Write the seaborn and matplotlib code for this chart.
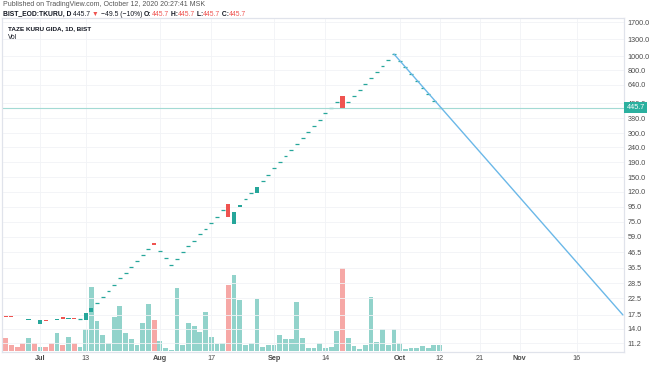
import matplotlib
matplotlib.use("Agg")
import matplotlib.pyplot as plt
import matplotlib.transforms as mtransforms
from matplotlib.ticker import NullLocator
import seaborn as sns

# daily bars, one per trading day (index 0 = late June 2020, 76 = Oct 12)
opens = [17.05, 17.05, 16.85, 16.62, 15.98, 16.43, 15.00, 16.03, 16.10, 16.06,
         16.76, 16.23, 16.57, 16.23, 16.06, 18.12, 21.1, 23.0, 25.4, 28.0,
         30.9, 33.7, 37.0, 40.7, 44.7, 49.1, 54.0, 47.1, 42.2, 38.2,
         42.0, 46.4, 50.9, 55.6, 61.3, 67.1, 73.7, 81.0, 89.9, 98.8,
         72.6, 94.3, 106.9, 117.9, 117.9, 142.4, 155.7, 172.8, 190.0, 209.6,
         230.3, 252.9, 276.6, 305.2, 335.3, 368.4, 409.0, 446.6, 490.5, 539.6,
         485.6, 536.5, 589.0, 647.0, 708.0, 777.0, 858.0, 943.0, 1035.4, 931.9,
         838.7, 754.8, 679.3, 611.4, 550.2, 495.2, 445.7]
closes = [16.95, 16.95, 16.75, 16.52, 16.38, 16.33, 16.06, 15.93, 16.00, 16.38,
          16.23, 16.57, 16.23, 16.23, 17.83, 19.40, 21.1, 23.0, 25.4, 28.0,
          30.9, 33.7, 37.0, 40.7, 44.7, 49.1, 52.2, 47.1, 42.2, 38.2,
          42.0, 46.4, 50.9, 55.6, 61.3, 67.1, 73.7, 81.0, 89.9, 80.2,
          87.6, 97.3, 106.9, 117.9, 129.7, 142.4, 155.7, 172.8, 190.0, 209.6,
          230.3, 252.9, 276.6, 305.2, 335.3, 368.4, 409.0, 446.6, 490.5, 441.5,
          485.6, 536.5, 589.0, 647.0, 708.0, 777.0, 858.0, 943.0, 1035.4, 931.9,
          838.7, 754.8, 679.3, 611.4, 550.2, 495.2, 445.7]
volumes = [13, 6, 4, 8, 13, 8, 4, 4, 8, 18,
           6, 14, 8, 4, 22, 64, 30, 16, 8, 34,
           45, 18, 12, 6, 28, 47, 31, 10, 3, 1,
           63, 6, 28, 25, 19, 39, 14, 7, 8, 66,
           76, 51, 6, 8, 52, 4, 6, 6, 16, 12,
           12, 49, 13, 3, 3, 8, 3, 4, 20, 83,
           13, 5, 2, 6, 54, 9, 22, 6, 22, 8,
           2, 3, 3, 5, 3, 6, 6]

tick_pos = [6, 14, 27, 36, 47, 56, 69, 76, 83, 90, 100]
tick_labels = ["Jul", "13", "Aug", "17", "Sep", "14", "Oct", "12", "21", "Nov", "16"]
price_ticks = [11.2, 14.0, 17.5, 22.5, 28.5, 36.5, 46.5, 59.0, 75.0, 95.0, 120.0,
               150.0, 190.0, 240.0, 300.0, 380.0, 480.0, 640.0, 800.0, 1000.0,
               1300.0, 1700.0]
last_price = 445.7
# drawn trend line: from the top to the right edge
trend_x = [68, 108.1]
trend_y = [1035.4, 17.4]

UP = "#26a69a"
DOWN = "#ef5350"
UP_VOL = "#92d3cb"
DOWN_VOL = "#f6a8a6"
BORDER = "#e0e3eb"
TXT = "#4a4a4a"
DARK = "#131722"

sns.set_theme(style="white")
plt.rcParams["font.family"] = ["Liberation Sans", "DejaVu Sans"]

fig = plt.figure(figsize=(6.54, 3.66), dpi=100)
ax = fig.add_axes([2 / 654, 14 / 366, 622 / 654, 334 / 366])
axv = ax.twinx()
ax.set_zorder(axv.get_zorder() + 1)
ax.patch.set_visible(False)

idx = list(range(len(closes)))

# volume pane (overlay)
vol_colors = [DOWN_VOL if c < o else UP_VOL for o, c in zip(opens, closes)]
axv.bar(idx, volumes, width=0.84, color=vol_colors, linewidth=0)
axv.set_ylim(-1, 333)
axv.set_yticks([])

# candles
for i, (o, c) in enumerate(zip(opens, closes)):
    col = DOWN if c < o else UP
    if o == c:
        ax.hlines(c, i - 0.34, i + 0.34, color=col, lw=0.9)
    else:
        ax.bar(i, c - o, bottom=o, width=0.72, color=col, linewidth=0)

ax.axhline(last_price, color="#a3dad4", lw=0.8)
sns.lineplot(x=trend_x, y=trend_y, ax=ax, color="#6bb8e8", lw=1.0)

ax.set_yscale("log")
ax.set_ylim(9.73, 1820)
ax.set_xlim(-0.65, 108.3)
ax.yaxis.set_minor_locator(NullLocator())
ax.yaxis.tick_right()
ax.set_yticks(price_ticks)
ax.set_yticklabels([f"{v:.1f}" for v in price_ticks])
ax.set_xticks(tick_pos)
ax.set_xticklabels(tick_labels)
for lab in ax.get_xticklabels():
    if lab.get_text().isalpha():
        lab.set_fontweight("bold")
ax.tick_params(axis="y", length=0, pad=2.5, labelsize=5.2, colors=TXT)
ax.tick_params(axis="x", length=0, pad=2.5, labelsize=5.2, colors=TXT)
ax.grid(True, color="#f1f3f6", lw=0.6)
ax.set_axisbelow(True)
for a in (ax, axv):
    for sp in a.spines.values():
        sp.set_color(BORDER)
        sp.set_linewidth(0.8)

# last price tag on the axis
tr = mtransforms.blended_transform_factory(ax.transAxes, ax.transData)
ax.text(1.004, last_price, "445.7", transform=tr, ha="left", va="center",
        fontsize=5.2, color="white", clip_on=False, zorder=10,
        bbox=dict(boxstyle="square,pad=0.3", fc="#2bb09f", ec="none"))

# header texts
fig.text(3 / 654, 1 - 4.5 / 366, "Published on TradingView.com, October 12, 2020 20:27:41 MSK",
         fontsize=5.0, color="#555555", va="center")

renderer = fig.canvas.get_renderer()
pieces = [("BIST_EOD:TKURU, D", DARK, "bold"), (" 445.7 ", DARK, "normal"),
          ("\u25bc ", DOWN, "normal"), ("\u221249.5 (\u221210%) ", DARK, "normal"),
          ("O:", DARK, "bold"), ("445.7", DOWN, "normal"),
          (" H:", DARK, "bold"), ("445.7", DOWN, "normal"),
          (" L:", DARK, "bold"), ("445.7", DOWN, "normal"),
          (" C:", DARK, "bold"), ("445.7", DOWN, "normal")]
x = 3 / 654
for s, c, w in pieces:
    t = fig.text(x, 1 - 14 / 366, s, fontsize=4.9, color=c, va="center", fontweight=w)
    bb = t.get_window_extent(renderer=renderer)
    x = bb.x1 / fig.bbox.width

fig.text(8 / 654, 1 - 29 / 366, "TAZE KURU GIDA, 1D, BIST", fontsize=4.6,
         color=DARK, va="center", fontweight="bold")
fig.text(8 / 654, 1 - 37.5 / 366, "Vol", fontsize=4.8, color=DARK, va="center")

fig.savefig("out.png", dpi=100)
